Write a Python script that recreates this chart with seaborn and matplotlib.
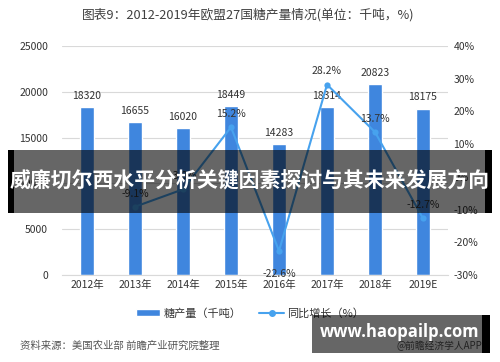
import numpy as np
import pandas as pd
import matplotlib
matplotlib.use("Agg")
import matplotlib.pyplot as plt
import seaborn as sns
from matplotlib.patches import Rectangle
from matplotlib.lines import Line2D
from matplotlib.patches import Patch

# donnees
years = ["2012年", "2013年", "2014年", "2015年", "2016年", "2017年", "2018年", "2019E"]
production = [18320, 16655, 16020, 18449, 14283, 18314, 20823, 18175]
growth_years = ["2013年", "2014年", "2015年", "2016年", "2017年", "2018年", "2019E"]
growth = [-9.1, -3.8, 15.2, -22.6, 28.2, 13.7, -12.7]

sns.set_style("white")
plt.rcParams['font.family'] = ['Noto Sans CJK SC', 'DejaVu Sans']

bar_color = "#3F86DE"
line_color = "#47A2EE"

fig = plt.figure(figsize=(5, 3.62), dpi=100)
ax = fig.add_axes([0.124, 0.240, 0.772, 0.633])

df = pd.DataFrame({"year": years, "prod": production})
sns.barplot(data=df, x="year", y="prod", color=bar_color, width=0.31,
            saturation=1, ax=ax)
ax.set_ylim(0, 25000)
ax.set_yticks(range(0, 25001, 5000))
ax.yaxis.grid(True, color="#D9D9D9", linewidth=0.8)
ax.set_axisbelow(True)
ax.set_xlabel("")
ax.set_ylabel("")
for s in ["top", "right", "left"]:
    ax.spines[s].set_visible(False)
ax.spines["bottom"].set_color("#D9D9D9")
ax.tick_params(axis="both", length=0, labelsize=7.5, colors="#333333")
ax.tick_params(axis="y", pad=10)
for i, v in enumerate(production):
    ax.text(i, v + 700, str(v), ha="center", va="bottom", fontsize=7.5, color="#333333")

ax2 = ax.twinx()
gdf = pd.DataFrame({"x": [years.index(y) for y in growth_years], "g": growth})
sns.lineplot(data=gdf, x="x", y="g", color=line_color, linewidth=1.5,
             marker="o", markersize=4.5, markeredgewidth=0, ax=ax2)
ax2.set_ylim(-30, 40)
ax2.set_yticks(range(-30, 41, 10))
ax2.set_yticklabels([f"{t}%" for t in range(-30, 41, 10)])
ax2.set_ylabel("")
ax2.set_xlim(ax.get_xlim())
for s in ["top", "right", "left", "bottom"]:
    ax2.spines[s].set_visible(False)
ax2.tick_params(axis="y", length=0, labelsize=7.5, colors="#333333", pad=4)

offsets = {-9.1: (0, 2.5), -3.8: (0, 2.5), 15.2: (0, 2.5), -22.6: (0, -5.5),
           28.2: (0, 2.5), 13.7: (0, 2.5), -12.7: (0, 2.5)}
for x, g in zip(gdf["x"], growth):
    dx, dy = offsets[g]
    ax2.text(x + dx, g + dy, f"{g}%", ha="center",
             va="bottom" if dy > 0 else "top", fontsize=7.5, color="#333333")

fig.text(0.496, 0.958, "图表9：2012-2019年欧盟27国糖产量情况(单位：千吨，%)",
         ha="center", va="center", fontsize=9.2, color="#404040")

handles = [Patch(facecolor=bar_color, label="糖产量（千吨）"),
           Line2D([0], [0], color=line_color, marker="o", markersize=4, lw=1.5,
                  label="同比增长（%）")]
fig.legend(handles=handles, loc="center", bbox_to_anchor=(0.5, 0.135), ncol=2,
           frameon=False, fontsize=8, handlelength=2.2, handleheight=0.5,
           handletextpad=0.3, columnspacing=1.6, labelcolor="#333333")

fig.text(0.04, 0.045, "资料来源：美国农业部 前瞻产业研究院整理", ha="left", va="center",
         fontsize=7.5, color="#555555", style="italic")
fig.text(0.965, 0.045, "@前瞻经济学人APP", ha="right", va="center",
         fontsize=7, color="#555555")

# bandeau central
fig.patches.append(Rectangle((0.016, 1 - 213 / 362), 0.96, 63 / 362,
                             transform=fig.transFigure, facecolor="black",
                             alpha=0.6, edgecolor="none", zorder=10))
fig.patches.append(Rectangle((0.016, 1 - 213 / 362), 0.011, 63 / 362,
                             transform=fig.transFigure, facecolor="black",
                             edgecolor="none", zorder=11))
fig.patches.append(Rectangle((0.970, 1 - 213 / 362), 0.014, 63 / 362,
                             transform=fig.transFigure, facecolor="black",
                             edgecolor="none", zorder=11))
fig.text(0.5, 1 - 181 / 362, "威廉切尔西水平分析关键因素探讨与其未来发展方向",
         ha="center", va="center", fontsize=15, color="white",
         fontweight="bold", zorder=12)

# bandeau du bas
fig.patches.append(Rectangle((0.624, 1 - 353 / 362), 0.34, 38 / 362,
                             transform=fig.transFigure, facecolor="black",
                             alpha=0.6, edgecolor="none", zorder=10))
fig.patches.append(Rectangle((0.964, 1 - 353 / 362), 0.016, 38 / 362,
                             transform=fig.transFigure, facecolor="black",
                             edgecolor="none", zorder=11))
fig.text(0.8, 1 - 332 / 362, "www.haopailp.com", ha="center", va="center",
         fontsize=12, color="white", fontweight="bold", zorder=12,
         family=["Open Sans", "DejaVu Sans"])

fig.savefig("out.png", dpi=100)
